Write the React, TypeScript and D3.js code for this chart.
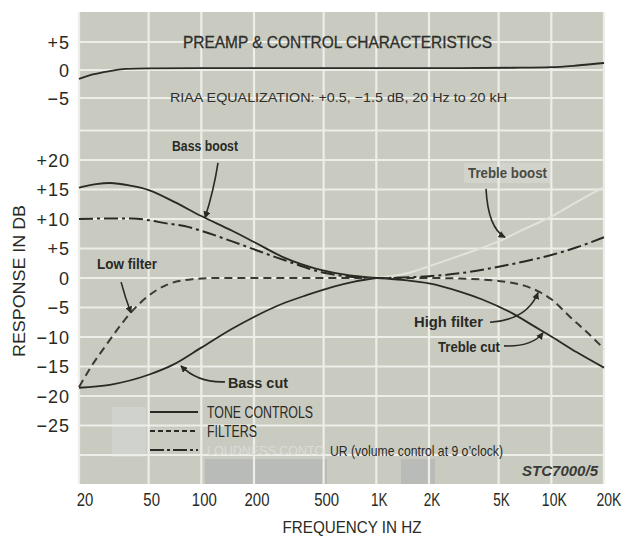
import { useEffect, useRef } from "react";
import * as d3 from "d3";

// ─── Axis ticks ───────────────────────────────────────────────────────────────

const FREQ_TICKS = [20, 50, 100, 200, 500, 1000, 2000, 5000, 10000, 20000];
const FREQ_LABELS = ["20", "50", "100", "200", "500", "1K", "2K", "5K", "10K", "20K"];
const RIAA_TICKS = [5, 0, -5];
const DB_TICKS = [20, 15, 10, 5, 0, -5, -10, -15, -20, -25];
const DB_GRID = [25, 20, 15, 10, 5, 0, -5, -10, -15, -20, -25, -30];

// ─── Curves (Hz, dB) ──────────────────────────────────────────────────────────

const RIAA_F = [20, 24, 30, 37, 50, 100, 300, 1000, 3000, 6000, 10000, 14000, 20000];
const RIAA_DB = [-1.6, -0.8, -0.2, 0.2, 0.3, 0.35, 0.35, 0.35, 0.35, 0.4, 0.5, 0.8, 1.25];

const BASS_BOOST_F = [20, 25, 30, 40, 50, 70, 100, 150, 200, 300, 450, 650, 1000];
const BASS_BOOST_DB = [15.3, 15.9, 16.1, 15.6, 14.9, 12.9, 10.5, 8.0, 6.1, 3.4, 1.6, 0.6, 0];

const BASS_CUT_F = [20, 30, 50, 70, 100, 150, 200, 300, 400, 564, 750, 1000];
const BASS_CUT_DB = [-18.6, -18.1, -16.4, -14.6, -11.8, -8.6, -6.6, -4.2, -2.9, -1.5, -0.6, 0];

const TREBLE_BOOST_F = [1000, 1500, 2000, 3000, 5000, 7000, 10000, 14000, 20000];
const TREBLE_BOOST_DB = [0, 0.8, 2.0, 3.8, 6.2, 8.3, 10.4, 12.9, 15.4];

const TREBLE_CUT_F = [1000, 1500, 2000, 3000, 4000, 6000, 8000, 10000, 14000, 20000];
const TREBLE_CUT_DB = [0, -0.4, -0.9, -2.3, -3.6, -6.0, -8.2, -9.9, -12.6, -15.2];

const FILTER_F = [20, 23.5, 29, 35, 40, 49, 63, 89, 120, 500, 1000, 2000, 3000, 5000, 7000, 8600, 10000, 12800, 16000, 20000];
const FILTER_DB = [-18.5, -15.0, -11.1, -7.8, -5.7, -3.2, -1.2, -0.2, 0, 0, 0, 0, -0.1, -0.5, -1.3, -2.4, -3.6, -6.6, -9.2, -12];

const LOUD_F = [20, 30, 40, 50, 62, 80, 100, 150, 216, 300, 520, 1000, 2000, 3000, 5000, 7000, 10000, 14000, 20000];
const LOUD_DB = [10, 10.1, 10.1, 9.8, 9.3, 8.8, 8.0, 6.2, 4.5, 3.0, 0.8, 0, 0.3, 0.8, 1.9, 2.8, 3.9, 5.2, 6.9];

// ─── Callouts: text spot, arrow start, bend, tip (Hz, dB) ─────────────────────

const NOTES = [
  { text: "Bass boost", w: 66, at: [105, 22.4], anchor: "middle", from: [124.5, 19.5], via: [118, 14.9], to: [105, 10.2] },
  { text: "Low filter", w: 60, at: [37.6, 2.4], anchor: "middle", from: [34.8, -0.7], via: [36.6, -3.2], to: [39.6, -5.9] },
  { text: "Bass cut", w: 60, at: [142, -17.8], anchor: "start", from: [136.5, -17.6], via: [95.7, -17.8], to: [76.5, -14.9] },
  { text: "Treble boost", w: 79, at: [3342, 17.8], anchor: "start", from: [4236, 15.1], via: [4345, 8.5], to: [5437, 6.9] },
  { text: "High filter", w: 69, at: [4071, -7.5], anchor: "end", from: [4464, -7.5], via: [7260, -7.1], to: [8395, -2.5] },
  { text: "Treble cut", w: 62, at: [5091, -11.7], anchor: "end", from: [5370, -11.5], via: [7755, -11.7], to: [8960, -9.3] },
];

const W = 634;
const H = 537;
const BG = "#c9cbc1";
const GRID = "#eeeee8";
const INK = "#2a2a24";
const FONT = "'Liberation Sans', Arial, sans-serif";

const zip = (f: number[], v: number[]) => f.map((d, i) => [d, v[i]] as [number, number]);

export default function App() {
  const ref = useRef<SVGSVGElement>(null);

  useEffect(() => {
    if (!ref.current) return;
    const svg = d3.select(ref.current);
    svg.selectAll("*").remove();

    const x = d3.scaleLog().domain([20, 20000]).range([79, 604]);
    const y = d3.scaleLinear().domain([0, 20]).range([278, 160]);
    const yTop = d3.scaleLinear().domain([0, 5]).range([70, 42]);

    const top = 12;
    const bottom = 484;

    // text squeezed to the scan's condensed face
    const label = (
      g: d3.Selection<any, unknown, null, undefined>,
      px: number,
      py: number,
      s: string,
      size: number,
      w: number | null,
      anchor = "start",
    ) => {
      const t = g
        .append("text")
        .attr("x", px)
        .attr("y", py)
        .attr("text-anchor", anchor)
        .attr("font-family", FONT)
        .attr("font-size", size)
        .text(s);
      if (w) t.attr("textLength", w).attr("lengthAdjust", "spacingAndGlyphs");
      return t;
    };

    const defs = svg.append("defs");
    defs
      .append("marker")
      .attr("id", "arr")
      .attr("viewBox", "0 0 10 10")
      .attr("refX", 9)
      .attr("refY", 5)
      .attr("markerWidth", 7)
      .attr("markerHeight", 7)
      .attr("orient", "auto")
      .attr("markerUnits", "userSpaceOnUse")
      .append("path")
      .attr("d", "M0,0 L10,5 L0,10 z")
      .attr("fill", INK);

    // plot paper
    svg
      .append("rect")
      .attr("x", x(20))
      .attr("y", top)
      .attr("width", x(20000) - x(20))
      .attr("height", bottom - top)
      .attr("fill", BG);

    // scan patches
    const patches = svg.append("g").attr("fill", "#b9bbb8");
    patches.append("rect").attr("x", 205).attr("y", 459).attr("width", 122).attr("height", bottom - 459);
    patches.append("rect").attr("x", 401).attr("y", 459).attr("width", 34).attr("height", bottom - 459);
    svg
      .append("rect")
      .attr("x", 112)
      .attr("y", 407)
      .attr("width", 34)
      .attr("height", 50)
      .attr("fill", "#d0d2cd");
    svg
      .append("rect")
      .attr("x", 464)
      .attr("y", 163)
      .attr("width", 86)
      .attr("height", 20)
      .attr("fill", "#d2d4cc");

    // grid
    const grid = svg.append("g").attr("stroke", GRID).attr("stroke-width", 2.2);
    grid
      .selectAll("line.v")
      .data(FREQ_TICKS)
      .join("line")
      .attr("x1", (d) => x(d))
      .attr("x2", (d) => x(d))
      .attr("y1", top)
      .attr("y2", bottom);
    grid
      .selectAll("line.t")
      .data(RIAA_TICKS)
      .join("line")
      .attr("x1", x(20))
      .attr("x2", x(20000))
      .attr("y1", (d) => yTop(d))
      .attr("y2", (d) => yTop(d));
    grid
      .selectAll("line.h")
      .data(DB_GRID)
      .join("line")
      .attr("x1", x(20))
      .attr("x2", x(20000))
      .attr("y1", (d) => y(d))
      .attr("y2", (d) => y(d));

    const lineMain = d3
      .line<[number, number]>()
      .x((d) => x(d[0]))
      .y((d) => y(d[1]))
      .curve(d3.curveMonotoneX);
    const lineTop = d3
      .line<[number, number]>()
      .x((d) => x(d[0]))
      .y((d) => yTop(d[1]))
      .curve(d3.curveMonotoneX);

    const curves = svg.append("g").attr("fill", "none").attr("stroke-linecap", "butt");

    curves
      .append("path")
      .attr("d", lineTop(zip(RIAA_F, RIAA_DB)))
      .attr("stroke", INK)
      .attr("stroke-width", 1.8);

    curves
      .append("path")
      .attr("d", lineMain(zip(TREBLE_BOOST_F, TREBLE_BOOST_DB)))
      .attr("stroke", "#e2e3dc")
      .attr("stroke-width", 2);

    [
      zip(BASS_BOOST_F, BASS_BOOST_DB),
      zip(BASS_CUT_F, BASS_CUT_DB),
      zip(TREBLE_CUT_F, TREBLE_CUT_DB),
    ].forEach((pts) =>
      curves.append("path").attr("d", lineMain(pts)).attr("stroke", INK).attr("stroke-width", 1.8),
    );

    curves
      .append("path")
      .attr("d", lineMain(zip(FILTER_F, FILTER_DB)))
      .attr("stroke", "#3a3a33")
      .attr("stroke-width", 2)
      .attr("stroke-dasharray", "8,5");

    curves
      .append("path")
      .attr("d", lineMain(zip(LOUD_F, LOUD_DB)))
      .attr("stroke", INK)
      .attr("stroke-width", 2)
      .attr("stroke-dasharray", "14,4,3,4");

    // y labels
    const yl = svg.append("g").attr("fill", INK);
    const fmt = (d: number) => (d > 0 ? `+${d}` : d < 0 ? `\u2212${-d}` : "0");
    RIAA_TICKS.forEach((d) => label(yl, 70, yTop(d) + 6.5, fmt(d), 18, null, "end").attr("letter-spacing", 1));
    DB_TICKS.forEach((d) => label(yl, 70, y(d) + 6.5, fmt(d), 18, null, "end").attr("letter-spacing", 1));

    const yt = svg.append("g").attr("fill", INK).attr("transform", "translate(25,281) rotate(-90)");
    label(yt, 0, 0, "RESPONSE IN DB", 17, 152, "middle");

    // x labels
    const xl = svg.append("g").attr("fill", INK);
    FREQ_TICKS.forEach((d, i) => {
      const off = i === 0 ? 6 : i === FREQ_TICKS.length - 1 ? 5 : 3;
      const s = FREQ_LABELS[i];
      label(xl, x(d) + off, 506, s, 18, s.length * 8.3, "middle");
    });
    label(xl, 352, 533, "FREQUENCY IN HZ", 17, 139, "middle");

    // titles on the chart
    const tt = svg.append("g").attr("fill", "#2e2e2a");
    label(tt, 183, 48, "PREAMP & CONTROL CHARACTERISTICS", 17, 309).attr("stroke", "#2e2e2a").attr("stroke-width", 0.3);
    label(tt, 170, 102, "RIAA EQUALIZATION: +0.5, \u22121.5 dB, 20 Hz to 20 kH", 13.5, 337);

    // callouts
    const notes = svg.append("g");
    NOTES.forEach((n) => {
      const [fx, fy] = [x(n.from[0]), y(n.from[1])];
      const [vx, vy] = [x(n.via[0]), y(n.via[1])];
      const [tx, ty] = [x(n.to[0]), y(n.to[1])];
      notes
        .append("path")
        .attr("d", `M${fx},${fy} Q${vx},${vy} ${tx},${ty}`)
        .attr("fill", "none")
        .attr("stroke", INK)
        .attr("stroke-width", 1.6)
        .attr("marker-end", "url(#arr)");
      label(notes, x(n.at[0]), y(n.at[1]) + 5, n.text, 14.5, n.w, n.anchor)
        .attr("font-weight", "bold")
        .attr("fill", n.text === "Treble boost" ? "#4a4a44" : INK);
    });

    // legend
    const lg = svg.append("g").attr("fill", INK);
    const rows = [
      { y: 412, dash: null as string | null, text: "TONE CONTROLS", w: 106 },
      { y: 431, dash: "5,3", text: "FILTERS", w: 50 },
      { y: 450, dash: "14,3,3,3", text: "", w: 0 },
    ];
    rows.forEach((r) => {
      lg.append("line")
        .attr("x1", 150)
        .attr("x2", 198)
        .attr("y1", r.y)
        .attr("y2", r.y)
        .attr("stroke", INK)
        .attr("stroke-width", 1.8)
        .attr("stroke-dasharray", r.dash);
      if (r.text) label(lg, 207, r.y + 5.5, r.text, 16, r.w);
    });
    // scan lost most of the first words of this entry
    label(lg, 207, 455, "LOUDNESS CONTO", 12.5, null).attr("fill", "#dcdcd6");
    label(lg, 330, 455.5, "UR (volume control at 9 o\u2019clock)", 15, 173);

    label(svg as any, 598, 476, "STC7000/5", 14, 76, "end")
      .attr("font-style", "italic")
      .attr("font-weight", "bold")
      .attr("fill", "#3a3a36");
  }, []);

  return (
    <svg
      ref={ref}
      width={W}
      height={H}
      viewBox={`0 0 ${W} ${H}`}
      style={{ position: "absolute", left: 0, top: 0, background: "#fff" }}
    />
  );
}
